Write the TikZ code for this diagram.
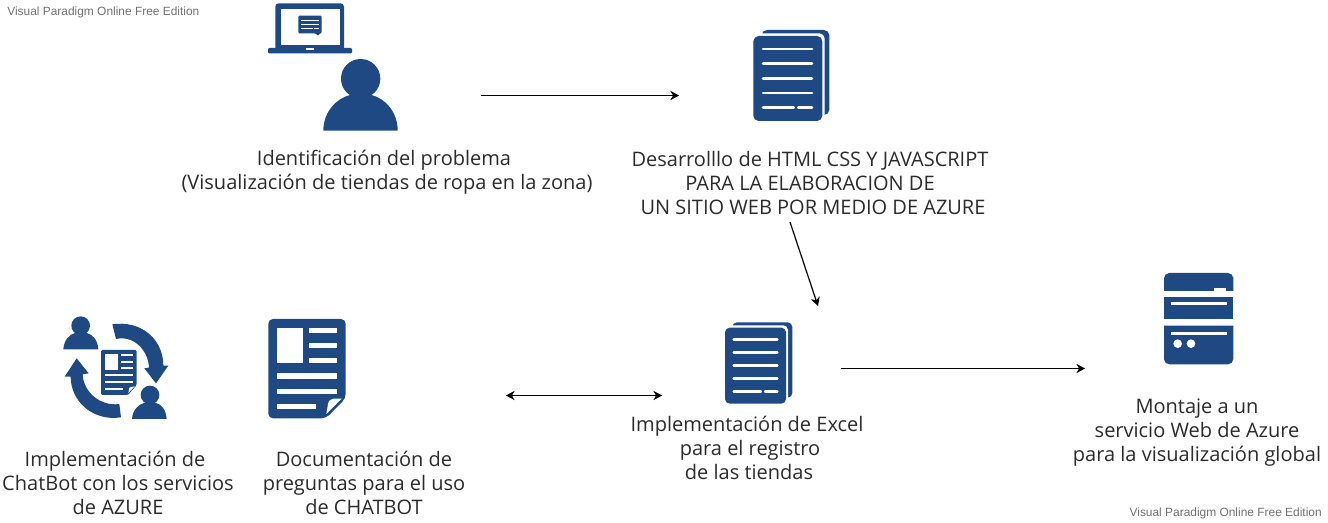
\documentclass[tikz,border=0pt]{standalone}
\usepackage{fontspec}
\setmainfont{Open Sans}
\newfontfamily\wmfont{Liberation Sans}
\usetikzlibrary{arrows.meta}
\definecolor{iconblue}{HTML}{1F4982}
\definecolor{labelgray}{HTML}{2B2B2B}
\definecolor{wmgray}{HTML}{707070}
\tikzset{
  zm/.style 2 args={shift={(#1,#2)},x=0.25pt,y=-0.25pt},
  icon/.style={fill=iconblue,draw=none},
  cut/.style={fill=white,draw=none},
  label/.style={align=center,text=labelgray,font=\fontsize{15pt}{18pt}\selectfont,inner sep=0pt},
  wm/.style={text=wmgray,font=\wmfont\fontsize{8.95pt}{11pt}\selectfont,inner sep=0pt},
  flow/.style={draw=black,line width=0.9pt,-{Stealth[length=6.5pt,width=7pt]}},
  flowboth/.style={draw=black,line width=0.9pt,{Stealth[length=6.5pt,width=7pt]}-{Stealth[length=6.5pt,width=7pt]}},
}
\begin{document}
\begin{tikzpicture}[x=0.75pt,y=-0.75pt]
\useasboundingbox (0,0) rectangle (1328,523);
% watermarks
\node[wm,anchor=west] (wmA) at (7,12) {Visual Paradigm Online Free Edition};
\node[wm,anchor=east] (wmB) at (1322,513) {Visual Paradigm Online Free Edition};
% laptop and person
\begin{scope}[zm={250}{0}]
  \fill[icon] (76,150) -- (76,40) [rounded corners=2.5pt] -- (76,10) -- (282,10) -- (282,40) [sharp corners] -- (282,150) -- cycle;
  \fill[cut] (92,27) rectangle (270,134);
  \fill[icon,rounded corners=0.8pt] (54,144) rectangle (306,160);
  \fill[cut] (168,145) rectangle (192,150);
  \fill[icon,rounded corners=0.8pt] (145,47) -- (215,47) -- (215,100) -- (209,100) -- (205,108) -- (196,100) -- (145,100) -- cycle;
  \fill[cut] (152,59) rectangle (208,62);
  \fill[cut] (152,71) rectangle (208,74);
  \fill[cut] (152,84) rectangle (190,87);
  \fill[cut] (193,84) rectangle (208,87);
  \fill[icon] (332,236) circle (59);
  \fill[icon] (220,392) .. controls (220,335) and (260,295) .. (300,285) -- (364,285) .. controls (405,295) and (443,335) .. (443,392) -- cycle;
\end{scope}
% stacked document top
\begin{scope}[zm={740}{20}]
  \fill[icon,rounded corners=4pt] (65,30) rectangle (268,285);
  \fill[cut,rounded corners=4pt] (34,40) rectangle (254,310);
  \fill[icon,rounded corners=4pt] (40,48) rectangle (247,303);
  \foreach \yy in {87,131,175,219}
    \draw[white,line width=2pt,line cap=round] (69,\yy) -- (216,\yy);
  \draw[white,line width=2pt,line cap=round] (69,263) -- (161,263);
  \draw[white,line width=2pt,line cap=round] (175,263) -- (216,263);
\end{scope}
% stacked document bottom
\begin{scope}[zm={715}{315}]
  \fill[icon,rounded corners=3.5pt] (52,22) rectangle (232,248);
  \fill[cut,rounded corners=3.5pt] (24,31) rectangle (219,272);
  \fill[icon,rounded corners=3.5pt] (30,38) rectangle (213,266);
  \foreach \yy in {73,112,151,190}
    \draw[white,line width=1.8pt,line cap=round] (56,\yy) -- (187,\yy);
  \draw[white,line width=1.8pt,line cap=round] (56,229) -- (138,229);
  \draw[white,line width=1.8pt,line cap=round] (150,229) -- (187,229);
\end{scope}
% form document
\begin{scope}[zm={255}{310}]
  \fill[icon,rounded corners=3.5pt] (40,27) -- (272,27) -- (272,265) -- (213,325) -- (40,325) -- cycle;
  \fill[cut] (66,55) rectangle (144,160);
  \fill[cut] (163,55) rectangle (245,70);
  \fill[cut] (163,100) rectangle (245,115);
  \fill[cut] (163,145) rectangle (245,160);
  \fill[cut] (66,190) rectangle (245,207);
  \fill[cut] (66,237) rectangle (245,253);
  \fill[cut] (66,282) rectangle (184,297);
  \fill[cut] (214,312) -- (219,282) .. controls (221,271) and (227,267) .. (236,266) -- (260,266) -- cycle;
\end{scope}
% cycle icon
\begin{scope}[zm={50}{305}]
  \fill[icon] (92,62) circle (28);
  \fill[icon] (40,133) .. controls (42,105) and (58,88) .. (75,84) -- (110,84) .. controls (128,88) and (143,105) .. (145,133) -- cycle;
  \fill[icon] (300,270) circle (28);
  \fill[icon] (246,342) .. controls (248,315) and (265,298) .. (282,294) -- (318,294) .. controls (335,298) and (348,315) .. (350,342) -- cycle;
  \fill[icon,rounded corners=1pt] (153,135) -- (260,135) -- (260,240) -- (234,270) -- (153,270) -- cycle;
  \fill[cut] (166,147) rectangle (203,194);
  \fill[cut] (212,147) rectangle (248,153);
  \fill[cut] (212,167) rectangle (248,173);
  \fill[cut] (212,187) rectangle (248,193);
  \fill[cut] (166,208) rectangle (248,214);
  \fill[cut] (166,229) rectangle (248,235);
  \fill[cut] (166,250) rectangle (220,256);
  \fill[cut] (235,264) -- (238,248) -- (254,244) -- cycle;
  % arrow right
  \fill[icon] (187,58) .. controls (270,45) and (340,100) .. (340,182) -- (355,182) -- (318,235) -- (283,190) -- (297,188) .. controls (295,135) and (250,90) .. (198,102) -- cycle;
  % arrow left
  \fill[icon] (213,337) .. controls (130,350) and (62,290) .. (62,215) -- (44,215) -- (80,160) -- (116,205) -- (98,208) .. controls (100,260) and (150,305) .. (208,297) -- cycle;
\end{scope}
% server
\begin{scope}[zm={1150}{265}]
  \fill[icon] (42,78) -- (42,50) [rounded corners=4pt] -- (42,24) -- (250,24) -- (250,50) [sharp corners] -- (250,78) -- cycle;
  \fill[cut] (192,68) rectangle (228,78);
  \fill[icon] (42,96) rectangle (250,163);
  \fill[cut] (64,111) rectangle (230,120);
  \fill[icon] (42,182) -- (42,240) [rounded corners=4pt] -- (42,298) -- (250,298) -- (250,240) [sharp corners] -- (250,182) -- cycle;
  \fill[cut] (64,201) rectangle (230,210);
  \fill[cut] (83,236) circle (13);
  \fill[cut] (123,236) circle (13);
\end{scope}
% labels
\node[label] (lblProblem) at (387,172.5) {Identificación del problema\hspace*{4.5pt}\\(Visualización de tiendas de ropa en la zona)};
\node[label] (lblWeb) at (810,183) {Desarrolllo de HTML CSS Y JAVASCRIPT\\PARA LA ELABORACION DE\\\hspace*{4.5pt}UN SITIO WEB POR MEDIO DE AZURE};
\node[label] (lblBot) at (118,483) {Implementación de\hspace*{4.5pt}\\ChatBot con los servicios\\de AZURE};
\node[label] (lblDocs) at (364,483) {Documentación de\\preguntas para el uso\\de CHATBOT};
\node[label] (lblExcel) at (747,448) {Implementación de Excel\\\hspace*{4.5pt}para el registro\\\hspace*{3pt}de las tiendas};
\node[label] (lblMount) at (1197,432.5) {Montaje a un\\servicio Web de Azure\\para la visualización global};
% connector ends
\coordinate (aS) at (481,95.5);
\coordinate (aE) at (679,95.5);
\coordinate (bS) at (790,222);
\coordinate (bE) at (818,306);
\coordinate (cS) at (506,395.5);
\coordinate (cE) at (662,395.5);
\coordinate (dS) at (841,368.5);
\coordinate (dE) at (1085,368.5);
\draw[flow] (aS) -- (aE);
\draw[flow] (bS) -- (bE);
\draw[flowboth] (cS) -- (cE);
\draw[flow] (dS) -- (dE);
\end{tikzpicture}
\end{document}
